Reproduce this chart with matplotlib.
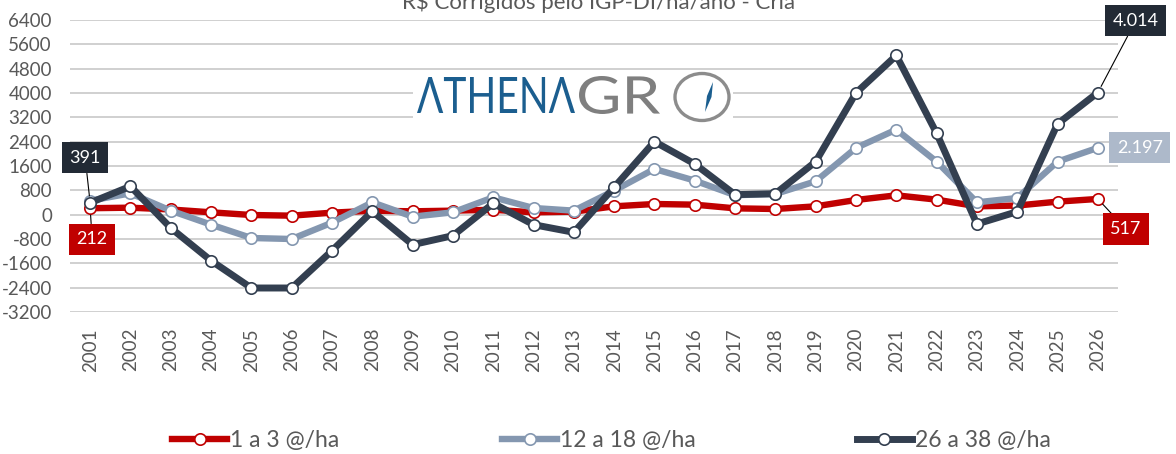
import matplotlib
matplotlib.use('Agg')
import matplotlib.pyplot as plt
from matplotlib.textpath import TextPath
from matplotlib.patches import PathPatch, Rectangle, Ellipse, Polygon
from matplotlib.font_manager import FontProperties
from matplotlib.transforms import Affine2D
from matplotlib.lines import Line2D

# ---------------- data ----------------
years = [str(y) for y in range(2001, 2027)]
s_1a3 = [212, 230, 170, 77, -11, -33, 66, 130, 110, 132, 160, 77, 99, 274, 351, 329,
         208, 186, 274, 483, 636, 494, 274, 300, 428, 517]
s_12a18 = [460, 701, 132, -329, -767, -800, -263, 405, -66, 77, 570, 219, 132, 790, 1503,
           1119, 640, 680, 1097, 2194, 2797, 1744, 406, 548, 1744, 2197]
s_26a38 = [391, 932, -438, -1512, -2411, -2411, -1184, 110, -986, -690, 373, -329, -581,
           900, 2402, 1667, 658, 690, 1744, 4004, 5233, 2677, -307, 99, 2984, 4014]
series_names = ['1 a 3 @/ha', '12 a 18 @/ha', '26 a 38 @/ha']
yticks = list(range(-3200, 6401, 800))
title = 'R$ Corrigidos pelo IGP-DI/ha/ano - Cria'
label_first = ['212', None, '391']
label_last = ['517', '2.197', '4.014']

# ---------------- style ----------------
W, H = 1176, 454
FONT = ['Lato', 'DejaVu Sans']
GRAY = '#595959'
colors = ['#C00000', '#8497B0', '#333F50']
box_colors = ['#C00000', '#ADB9CA', '#222A35']
lws = [4.6, 4.6, 5.0]

plt.rcParams['font.family'] = FONT
fig = plt.figure(figsize=(W / 100, H / 100), dpi=100)
ax = fig.add_axes([70 / W, 142 / H, 1048 / W, 292 / H])

x = list(range(len(years)))
all_series = [s_1a3, s_12a18, s_26a38]
handles = []
for i, (vals, c) in enumerate(zip(all_series, colors)):
    ln, = ax.plot(x, vals, color=c, lw=lws[i], marker='o', ms=8.2, mfc='white',
                  mec=c, mew=1.2, zorder=3 + i, solid_joinstyle='round')
    handles.append(ln)

ax.set_xlim(-0.5, len(years) - 0.5)
ax.set_ylim(-3200, 6400)
ax.set_yticks(yticks)
ax.set_yticklabels([str(v) for v in yticks])
ax.set_xticks(x)
ax.set_xticklabels(years, rotation=90)
ax.tick_params(axis='y', length=0, pad=13, labelsize=13.5, labelcolor=GRAY)
ax.tick_params(axis='x', length=0, pad=11.5, labelsize=13.5, labelcolor=GRAY)
for sp in ax.spines.values():
    sp.set_visible(False)
ax.set_axisbelow(True)
ax.grid(axis='y', color='#d0d0d0', lw=1.4)
ax.grid(axis='x', visible=False)

# title (partially cut at top)
fig.text(0.509, 1 - 9 / H, title, ha='center', va='baseline', fontsize=16, color=GRAY)

# ---------------- data labels ----------------
def px2pt(v):
    return v * 0.72

label_specs = [
    # (series idx, point idx, text, dx px, dy px, leader)
    (2, 0, label_first[2], -5, 45, True),
    (0, 0, label_first[0], 2, -31, True),
    (2, 25, label_last[2], 38, 72, True),
    (1, 25, label_last[1], 42, 0, False),
    (0, 25, label_last[0], 28, -30, True),
]
for si, pi, txt, dx, dy, leader in label_specs:
    kw = {}
    if leader:
        kw['arrowprops'] = dict(arrowstyle='-', color='black', lw=0.8, shrinkA=0, shrinkB=5)
    ax.annotate(txt, xy=(pi, all_series[si][pi]), xytext=(px2pt(dx), px2pt(dy)),
                textcoords='offset points', ha='center', va='center', fontsize=13,
                color='white', zorder=10, annotation_clip=False,
                bbox=dict(boxstyle='square,pad=0.42', fc=box_colors[si], ec='none'), **kw)

# ---------------- logo ----------------
pix = Affine2D().scale(1 / W, 1 / H) + fig.transFigure
ax.add_patch(Rectangle((413, H - 122), 320, 52, transform=pix, fc='white', ec='none', zorder=1.5))
fp = FontProperties(family=FONT, weight='normal')

def fit_text(s, x0, x1, ytop, ybot, color):
    tp = TextPath((0, 0), s, size=100, prop=fp)
    bb = tp.get_extents()
    sx = (x1 - x0) / bb.width
    sy = (ybot - ytop) / bb.height
    tr = Affine2D().translate(-bb.x0, -bb.y0).scale(sx, sy).translate(x0, H - ybot) + pix
    ax.add_patch(PathPatch(tp, transform=tr, fc=color, ec='none', zorder=1.6))

fit_text('ΛTHENΛ', 417, 575, 77, 113, '#1B5E8F')
fit_text('GR', 579, 660, 76, 114, '#7F7F7F')
ax.add_patch(Ellipse((702, H - 97), 54, 47, transform=pix, fc='none', ec='#8C8C8C',
                     lw=2.4, zorder=1.6))
ax.add_patch(Polygon([(713, H - 82), (711.5, H - 97), (705, H - 112), (707, H - 96)],
                     closed=True, transform=pix, fc='#1B5E8F', ec='none', zorder=1.7))

# ---------------- legend ----------------
leg_x = [172, 502, 857]
for h, name, lx in zip(handles, series_names, leg_x):
    hd = Line2D([], [], color=h.get_color(), lw=h.get_linewidth(), marker='o', ms=8.2,
                mfc='white', mec=h.get_color(), mew=1.2)
    fig.legend(handles=[hd], labels=[name], loc='center left',
               bbox_to_anchor=(lx / W, (H - 441) / H), frameon=False,
               prop=FontProperties(family=FONT, size=16.5), labelcolor=GRAY,
               handlelength=2.4, handletextpad=0.15, borderpad=0, borderaxespad=0,
               numpoints=1)

fig.savefig('out.png', dpi=100)
